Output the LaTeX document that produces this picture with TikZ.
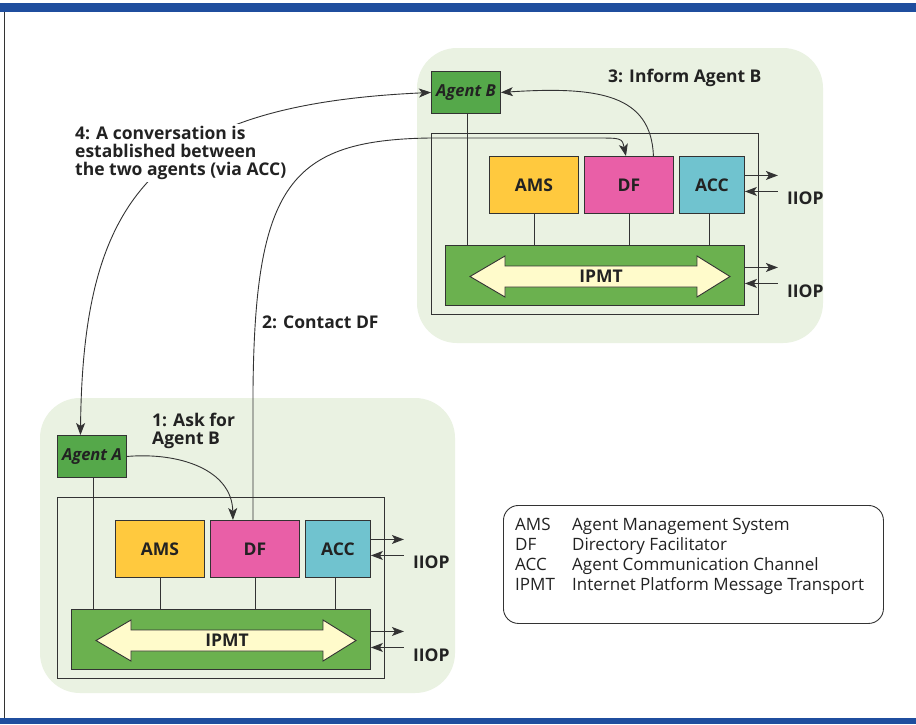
\documentclass[tikz,border=0pt]{standalone}
\usepackage{fontspec}
\setmainfont{Open Sans}
\usetikzlibrary{arrows.meta,calc}
\definecolor{barblue}{HTML}{1F4E9E}
\definecolor{regionc}{HTML}{EAF2E2}
\definecolor{agentc}{HTML}{55A84A}
\definecolor{ipmtc}{HTML}{6BB14F}
\definecolor{amsc}{HTML}{FFC93E}
\definecolor{dfc}{HTML}{E95FA7}
\definecolor{accc}{HTML}{70C3CF}
\definecolor{arrowc}{HTML}{FFFBCB}
\definecolor{edgec}{HTML}{333333}
\definecolor{txtc}{HTML}{222222}
\newcommand\lblfont{\fontsize{17.5}{18}\selectfont\bfseries}
\newcommand\myplatform[1]{%
  \node[platbox, minimum width=327pt, minimum height=181pt] (plat) at (431,133) {};
  \node[agentbox, minimum width=69pt, minimum height=42pt] (agent) at (431,71) {#1};
  \node[ipmtbox, minimum width=299pt, minimum height=60pt] (ipmt) at (445,245) {};
  \node[modbox, fill=amsc, minimum width=89pt] (ams) at (489,156) {AMS};
  \node[modbox, fill=dfc, minimum width=89pt] (df) at (584,156) {DF};
  \node[modbox, fill=accc, minimum width=65pt] (acc) at (679,156) {ACC};
  \draw[conn] ([xshift=1.5pt]agent.south) -- ([xshift=1.5pt]agent.south |- ipmt.north);
  \draw[conn] (ams.south) -- (ams.south |- ipmt.north);
  \draw[conn] (df.south) -- (df.south |- ipmt.north);
  \draw[conn] ([xshift=-3pt]acc.south) -- ([xshift=-3pt]acc.south |- ipmt.north);
  \filldraw[fill=arrowc, draw=edgec, line width=0.9pt]
    (470,276.5) -- (505,256) -- (505,266) -- (697,266) -- (697,256) -- (730,276.5)
    -- (697,297) -- (697,287) -- (505,287) -- (505,297) -- cycle;
  \node[lbl] (ipmtlbl) at (601,276.5) {IPMT};
  \draw[io, iotip] ([yshift=9.5pt]acc.east) -- ++(33,0);
  \draw[io, iotipb] ([yshift=-6.5pt]acc.east) -- ++(33,0);
  \node[lbl, anchor=west] (iiopa) at ([xshift=41pt,yshift=-13.5pt]acc.east) {IIOP};
  \draw[io, iotip] ([yshift=8pt]ipmt.east) -- ++(33,0);
  \draw[io, iotipb] ([yshift=-8pt]ipmt.east) -- ++(33,0);
  \node[lbl, anchor=west] (iiopb) at ([xshift=41pt,yshift=-16pt]ipmt.east) {IIOP};
}
\begin{document}
\begin{tikzpicture}[x=1pt,y=-1pt,
  box/.style={draw=edgec, line width=0.9pt, inner sep=0pt, anchor=north west},
  platbox/.style={box},
  agentbox/.style={box, fill=agentc, text=txtc, font=\fontsize{16.5}{18}\selectfont\bfseries\itshape},
  ipmtbox/.style={box, fill=ipmtc},
  modbox/.style={box, minimum height=57pt, text=txtc, font=\lblfont},
  lbl/.style={text=txtc, font=\lblfont, inner sep=1pt},
  conn/.style={draw=edgec, line width=0.9pt},
  io/.style={draw=edgec, line width=1pt},
  iotip/.style={-{Stealth[length=12pt,width=9pt,inset=3pt]}},
  iotipb/.style={{Stealth[length=12pt,width=9pt,inset=3pt]}-},
  flow/.style={draw=edgec, line width=0.9pt},
  tip/.style={-{Stealth[length=12pt,width=9pt,inset=3pt]}}
]
\useasboundingbox (0,0) rectangle (916,724);
\fill[white] (0,0) rectangle (916,724);
\fill[barblue] (0,3) rectangle (916,12);
\fill[barblue] (0,718) rectangle (916,724);
\draw[edgec, line width=1pt] (4.5,12) -- (4.5,718);
% regions
\fill[regionc, rounded corners=40pt] (417,48) rectangle (823,343);
\fill[regionc, rounded corners=40pt] (40,398) rectangle (455,693);
% platforms
\begin{scope}[name prefix=B-]
  \myplatform{Agent B}
\end{scope}
\begin{scope}[shift={(-374,364)}, name prefix=A-]
  \myplatform{Agent A}
\end{scope}
% flows
\draw[flow, {Stealth[length=12pt,width=9pt,inset=3pt]}-{Stealth[length=12pt,width=9pt,inset=3pt]}]
  ([xshift=-11.5pt]A-agent.north) .. controls (83,200) and (150,105) .. (B-agent.west);
\draw[flow, tip] (A-agent.east) .. controls (180,452) and (232,470) .. ([xshift=-22pt]A-df.north);
\draw[flow, tip] ([xshift=-2pt]A-df.north) -- (253,390) .. controls (255,185) and (290,140) .. (430,138)
  -- (595,138) .. controls (622,138) .. ([xshift=-3pt]B-df.north);
\draw[flow, tip] ([xshift=24.5pt]B-df.north) .. controls (651,95) and (600,86) .. (B-agent.east);
% labels
\node[lbl, fill=white, align=left, anchor=west, inner sep=2pt] (conv) at (73,153)
  {4: A conversation is\\established between\\the two agents (via ACC)};
\node[lbl, align=left, anchor=west] (ask) at (151,431) {1: Ask for\\Agent B};
\node[lbl, anchor=west] (contact) at (261,322) {2: Contact DF};
\node[lbl, anchor=west] (inform) at (607,78) {3: Inform Agent B};
% legend
\node[draw=edgec, line width=0.9pt, rounded corners=15pt, anchor=north west,
  minimum width=380pt, minimum height=118pt] (legend) at (503,505) {};
\node[anchor=north west, inner sep=0pt, text=txtc, align=left] (legendtext) at (515,516)
  {\fontsize{17}{20}\selectfont
   \begin{tabular}{@{}p{57pt}@{}l@{}}
   AMS & Agent Management System\\
   DF & Directory Facilitator\\
   ACC & Agent Communication Channel\\
   IPMT & Internet Platform Message Transport
   \end{tabular}};
\end{tikzpicture}
\end{document}
